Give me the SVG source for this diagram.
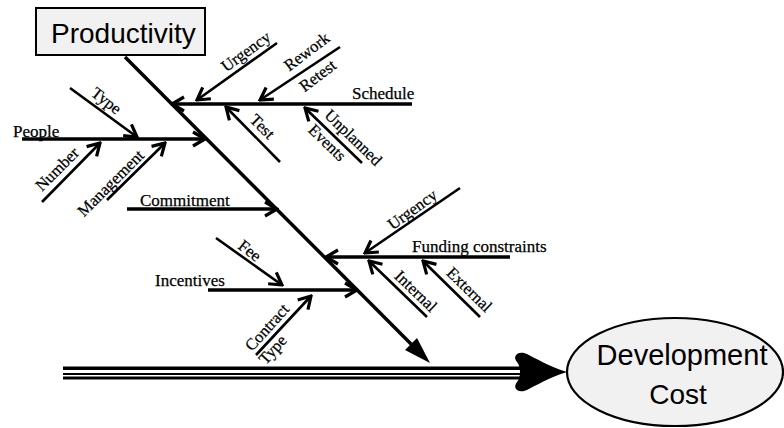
<svg xmlns="http://www.w3.org/2000/svg" width="784" height="428" viewBox="0 0 784 428">
  <style>
    .bone { stroke: #000; stroke-width: 3.5; fill: none; stroke-linecap: butt; }
    .rib { stroke: #000; stroke-width: 3.5; fill: none; marker-end: url(#vhead); }
    .sub { stroke: #000; stroke-width: 2.6; fill: none; marker-end: url(#vhead); }
    .lbl { font-family: "Liberation Serif", "Times New Roman", serif; font-size: 17px; fill: #000; stroke: #000; stroke-width: 0.25; }
    .sl { font-family: "Liberation Serif", "Times New Roman", serif; font-size: 16.5px; fill: #000; stroke: #000; stroke-width: 0.25; text-anchor: middle; }
    .title { font-family: "Liberation Sans", Arial, sans-serif; fill: #000; }
  </style>
  <defs>
    <marker id="vhead" markerUnits="userSpaceOnUse" viewBox="-16 -10 18 20" refX="0" refY="0" markerWidth="18" markerHeight="20" orient="auto">
      <path d="M-12,-7 L0,0 L-12,7" fill="none" stroke="#000" stroke-width="3.2" stroke-linejoin="miter"/>
    </marker>
  </defs>

  <rect width="784" height="428" fill="#fff"/>

  <!-- connectors: spine, ribs and sub-causes -->
  <g id="connectors">
    <!-- main diagonal spine with solid head -->
    <line class="bone" x1="125" y1="57" x2="416" y2="349"/>
    <polygon points="430,363 405,350 417,338" fill="#000"/>

    <!-- Schedule rib -->
    <line class="rib" x1="412" y1="104" x2="172" y2="104"/>
    <line class="sub" x1="277" y1="43" x2="197" y2="100"/>
    <line class="sub" x1="340" y1="47" x2="260" y2="100"/>
    <line class="sub" x1="280" y1="162" x2="226" y2="107"/>
    <line class="sub" x1="362" y1="163" x2="305" y2="108"/>

    <!-- People rib -->
    <line class="rib" x1="22" y1="139" x2="205" y2="139"/>
    <line class="sub" x1="70" y1="88" x2="137" y2="137"/>
    <line class="sub" x1="42" y1="202" x2="100" y2="143"/>
    <line class="sub" x1="107" y1="200" x2="165" y2="143"/>

    <!-- Commitment rib -->
    <line class="rib" x1="127" y1="209" x2="277" y2="209"/>

    <!-- Funding constraints rib -->
    <line class="rib" x1="510" y1="257" x2="326" y2="257"/>
    <line class="sub" x1="460" y1="188" x2="365" y2="253"/>
    <line class="sub" x1="427" y1="317" x2="369" y2="261"/>
    <line class="sub" x1="480" y1="317" x2="423" y2="261"/>

    <!-- Incentives rib -->
    <line class="rib" x1="208" y1="290" x2="357" y2="290"/>
    <line class="sub" x1="216" y1="238" x2="282" y2="285"/>
    <line class="sub" x1="256" y1="355" x2="311" y2="296"/>

    <!-- triple shaft into the outcome -->
    <rect x="63" y="366.5" width="462" height="13" fill="#000"/>
    <rect x="63" y="370" width="462" height="3" fill="#fff"/>
    <rect x="63" y="375" width="462" height="1.5" fill="#fff"/>
    <path d="M567,372 C548,366 535,358 527,354 C518,350 512,356 517,362 C521,367 521,377 517,382 C512,388 518,394 527,390 C535,386 548,378 567,372 Z" fill="#000"/>
  </g>

  <!-- head node -->
  <g id="productivity">
    <rect x="36" y="8" width="169" height="47" fill="#f1f1f1" stroke="#000" stroke-width="2"/>
    <text class="title" x="51" y="43" font-size="28">Productivity</text>
  </g>

  <!-- outcome node -->
  <g id="development-cost">
    <ellipse cx="675" cy="372" rx="108" ry="54" fill="#f1f1f1" stroke="#000" stroke-width="2.2"/>
    <text class="title" x="682" y="365" font-size="29" text-anchor="middle">Development</text>
    <text class="title" x="678" y="404" font-size="28" text-anchor="middle">Cost</text>
  </g>

  <g id="schedule">
    <text class="lbl" x="352" y="99">Schedule</text>
    <text class="sl" transform="translate(249,56) rotate(-36)">Urgency</text>
    <text class="sl" transform="translate(310,56) rotate(-37)">Rework</text>
    <text class="sl" transform="translate(321,80) rotate(-37)">Retest</text>
    <text class="sl" transform="translate(258.5,130.5) rotate(45)">Test</text>
    <text class="sl" transform="translate(349.5,141.5) rotate(44)">Unplanned</text>
    <text class="sl" transform="translate(323.5,146.5) rotate(44)">Events</text>
  </g>

  <g id="people">
    <text class="lbl" x="13" y="137">People</text>
    <text class="sl" transform="translate(103,105) rotate(38)">Type</text>
    <text class="sl" transform="translate(61,173) rotate(-45)">Number</text>
    <text class="sl" transform="translate(114.5,187) rotate(-45)">Management</text>
  </g>

  <g id="commitment">
    <text class="lbl" x="140" y="206">Commitment</text>
  </g>

  <g id="funding">
    <text class="lbl" x="412" y="252">Funding constraints</text>
    <text class="sl" transform="translate(415.5,214) rotate(-36)">Urgency</text>
    <text class="sl" transform="translate(412,295) rotate(44)">Internal</text>
    <text class="sl" transform="translate(465.5,293.5) rotate(44)">External</text>
  </g>

  <g id="incentives">
    <text class="lbl" x="155" y="286">Incentives</text>
    <text class="sl" transform="translate(246.5,255) rotate(38)">Fee</text>
    <text class="sl" transform="translate(271,331) rotate(-48)">Contract</text>
    <text class="sl" transform="translate(276.7,353.3) rotate(-48)">Type</text>
  </g>
</svg>
